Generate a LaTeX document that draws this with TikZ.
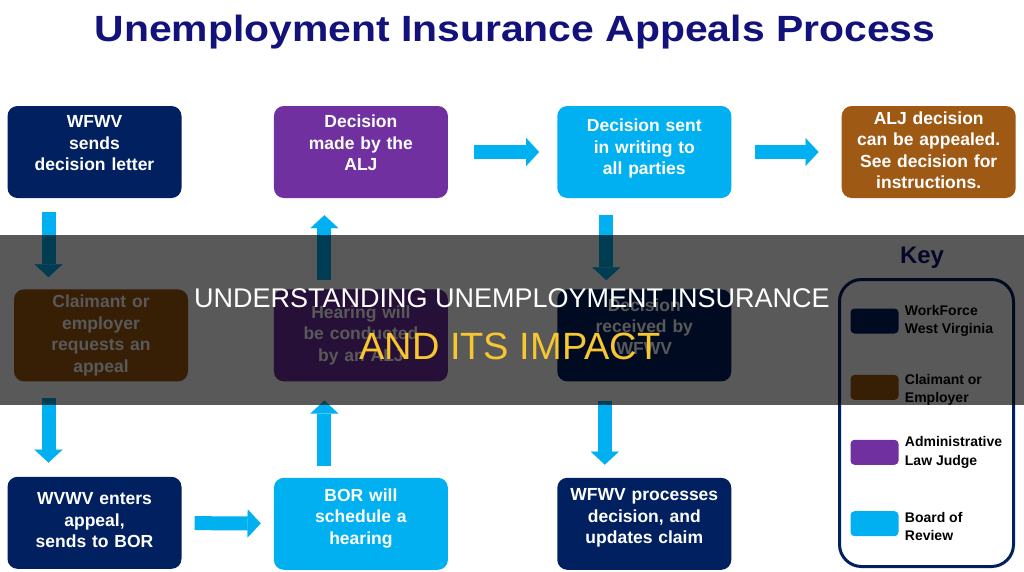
\documentclass[tikz,border=0pt]{standalone}
\usepackage{fontspec}
\setmainfont{Liberation Sans}
\usetikzlibrary{arrows.meta,positioning}
\definecolor{Navy}{HTML}{002060}
\definecolor{Plum}{HTML}{7030A0}
\definecolor{Sky}{HTML}{00B0F0}
\definecolor{Rust}{HTML}{9E5914}
\definecolor{Ink}{HTML}{12127A}
\definecolor{Gold}{HTML}{F8C630}

\begin{document}
\begin{tikzpicture}[x=1pt, y=-1pt,
  box/.style={rounded corners=10pt, minimum width=174pt, minimum height=92pt,
              text width=165pt, align=center, inner sep=4.5pt, text=white,
              font=\bfseries\fontsize{17.5}{21.5}\selectfont},
  lift/.style={text depth=#1},
  swatch/.style={rounded corners=4pt, minimum width=48pt, minimum height=25pt, inner sep=0pt},
  keytxt/.style={align=left, inner sep=0pt, font=\bfseries\fontsize{14}{18.5}\selectfont},
  blk/.style={draw=Sky, line width=14pt,
              -{Triangle[length=13pt, width=28pt, line width=0.1pt]}}]
  \useasboundingbox[fill=white] (0,0) rectangle (1024,571);
  \node[anchor=base, xscale=1.12, text=Ink, font=\bfseries\fontsize{36.5}{40}\selectfont]
    (title) at (515,41) {Unemployment Insurance Appeals Process};
  % top row
  \node[box, lift=61pt, fill=Navy] (n1) at (94.5,152) {WFWV\\sends\\decision letter};
  \node[box, lift=61pt, fill=Plum, right=92pt of n1] (n2) {Decision\\made by the\\ALJ};
  \node[box, lift=53pt, fill=Sky, right=109pt of n2] (n3) {Decision sent\\in writing to\\all parties};
  \node[box, lift=68pt, fill=Rust, right=110pt of n3] (n4) {ALJ decision\\can be appealed.\\See decision for\\instructions.};
  % middle row
  \node[box, fill=Rust, below=91pt of n1, xshift=6.5pt] (n5) {Claimant or\\employer\\requests an\\appeal};
  \node[box, fill=Plum, below=91pt of n2] (n6) {Hearing will\\be conducted\\by an ALJ};
  \node[box, lift=61pt, fill=Navy, below=91pt of n3] (n7) {Decision\\received by\\WFWV};
  % bottom row
  \node[box, lift=48pt, fill=Navy, below=95pt of n5, xshift=-6.5pt] (n8) {WVWV enters\\appeal,\\sends to BOR};
  \node[box, lift=58pt, fill=Sky, below=96pt of n6] (n9) {BOR will\\schedule a\\hearing};
  \node[box, lift=58pt, fill=Navy, below=96pt of n7] (n10) {WFWV processes\\decision, and\\updates claim};
  % arrows
  \draw[blk, shorten <=14pt, shorten >=12pt] ([xshift=-46pt]n1.south) -- ([xshift=-46pt]n1.south |- n5.north);
  \draw[blk, shorten <=16pt, shorten >=14pt] ([xshift=-46pt]n8.north |- n5.south) -- ([xshift=-46pt]n8.north);
  \draw[blk, shorten <=13pt, shorten >=13pt] (n8) -- (n9);
  \draw[blk, shorten <=12pt, shorten >=19pt] ([xshift=-36.5pt]n9.north) -- ([xshift=-36.5pt]n6.south);
  \draw[blk, shorten <=9pt, shorten >=17pt] ([xshift=-36.5pt]n6.north) -- ([xshift=-36.5pt]n2.south);
  \draw[blk, shorten <=26pt, shorten >=18pt] (n2) -- (n3);
  \draw[blk, shorten <=23pt, shorten >=23pt] (n3) -- (n4);
  \draw[blk, shorten <=17pt, shorten >=9pt] ([xshift=-38pt]n3.south) -- ([xshift=-38pt]n3.south |- n7.north);
  \draw[blk, shorten <=19pt, shorten >=13pt] ([xshift=-39.5pt]n7.south) -- ([xshift=-39.5pt]n10.north);
  % key
  \node[draw=Navy, line width=3pt, rounded corners=22pt, minimum width=174pt,
        minimum height=287pt] (key) at (926.5,423) {};
  \node[anchor=base, text=Ink, font=\bfseries\fontsize{24}{28}\selectfont] (keyhd) at (922,263) {Key};
  \node[swatch, fill=Navy] (s1) at (874.5,321) {};
  \node[keytxt, right=6pt of s1] (t1) {WorkForce\\West Virginia};
  \node[swatch, fill=Rust, below=41pt of s1] (s2) {};
  \node[keytxt, right=6pt of s2, yshift=-2.5pt] (t2) {Claimant or\\Employer};
  \node[swatch, fill=Plum, below=39.5pt of s2] (s3) {};
  \node[keytxt, right=6pt of s3] (t3) {Administrative\\Law Judge};
  \node[swatch, fill=Sky, below=46pt of s3] (s4) {};
  \node[keytxt, right=6pt of s4, yshift=-3pt] (t4) {Board of\\Review};
  % banner
  \fill[black, opacity=0.65] (0,235) rectangle (1024,405);
  \node[anchor=base, text=white, font=\fontsize{27}{30}\selectfont] (tag1) at (512,307) {UNDERSTANDING UNEMPLOYMENT INSURANCE};
  \node[anchor=base, text=Gold, font=\fontsize{38}{42}\selectfont] (tag2) at (510,359) {AND ITS IMPACT};
\end{tikzpicture}
\end{document}
